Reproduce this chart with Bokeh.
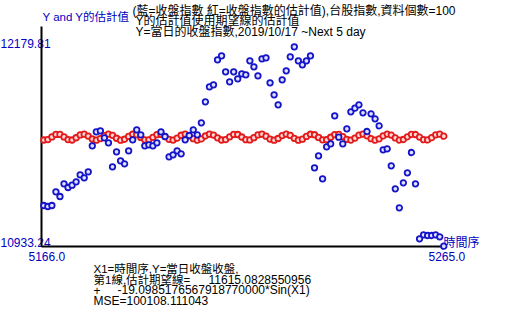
import numpy as np
from bokeh.plotting import figure
from bokeh.models import Label, Range1d
from bokeh.embed import file_html
from bokeh.resources import INLINE

# ---------------- data ----------------
x1 = list(range(5166, 5266))  # 時間序
close = [
    11187.7, 11181.4, 11187.7, 11273.3, 11243.9, 11323.3, 11300.2, 11314.6, 11335.8, 11379.6,
    11360.8, 11398.3, 11560.9, 11648.4, 11654.7, 11610.9, 11579.6, 11429.6, 11523.4, 11467.1,
    11448.4, 11529.6, 11598.4, 11660.9, 11629.7, 11560.9, 11567.2, 11560.9, 11579.6, 11648.4,
    11619.0, 11492.1, 11504.6, 11529.6, 11510.9, 11598.4, 11625.3, 11660.9, 11629.7, 11704.7,
    11835.9, 11929.7, 11942.2, 12098.5, 12123.5, 12023.5, 11961.0, 12023.5, 11979.8, 12011.0,
    12004.8, 12092.3, 12054.8, 11998.5, 12104.8, 12111.0, 11954.8, 11879.7, 11817.2, 11973.5,
    12029.8, 12117.3, 12179.81, 12092.3, 12067.3, 12092.3, 12123.5, 11423.4, 11498.4, 11354.6,
    11554.7, 11573.4, 11748.5, 11614.7, 11573.4, 11667.2, 11773.4, 11796.0, 11817.2, 11767.2,
    11650.3, 11760.9, 11729.7, 11686.0, 11535.9, 11542.1, 11435.9, 11292.1, 11173.3, 11329.6,
    11392.1, 11519.0, 11323.3, 10979.5, 11004.5, 11000.1, 11000.1, 11004.5, 10992.0, 10933.24,
]
# fitted line printed on the chart: 11615.0828550956 + -19.0985176567918770000*Sin(X1)
b0 = 11615.0828550956
b1 = -19.0985176567918770000
estimate = [b0 + b1 * np.sin(v) for v in x1]

x_tick_labels = ["5166.0", "5265.0"]
y_tick_labels = ["12179.81", "10933.24"]
x_axis_title = "時間序"
y_axis_title = "Y and Y的估計值"
title_lines = [
    "(藍=收盤指數 紅=收盤指數的估計值),台股指數,資料個數=100",
    "Y的估計值使用期望線的估計值",
    "Y=當日的收盤指數,2019/10/17 ~Next 5 day",
]
info_lines = [
    "X1=時間序,Y=當日收盤收盤,",
    "第1線,估計期望線=",
    "11615.0828550956",
    "+",
    "-19.0985176567918770000*Sin(X1)",
    "MSE=100108.111043",
]

# ---------------- layout ----------------
W, H = 520, 315
FONT = "'Liberation Sans', 'Noto Sans CJK TC', sans-serif"
BLUE_TXT = "#0000c0"

px_first, px_last = 43.3, 443.3      # pixel x of first / last point
py_min, py_max = 245.7, 46.3         # pixel y (from top) of min / max value
xmin, xmax = min(x1), max(x1)
vmin, vmax = min(close), max(close)
xs = (px_last - px_first) / (xmax - xmin)      # px per x unit
vs = (vmax - vmin) / (py_min - py_max)         # value per px


def X(px):
    return xmin + (px - px_first) / xs


def V(py):
    return vmin + (py_min - py) * vs


p = figure(width=W, height=H, output_backend="svg", toolbar_location=None,
           x_axis_location=None, y_axis_location=None,
           x_range=Range1d(X(0), X(W)), y_range=Range1d(V(H), V(0)),
           min_border=0, outline_line_color=None)
p.grid.visible = False
p.background_fill_color = "white"
p.border_fill_color = "white"


def lab(text, xpx, ypx, color="black", align="left", size="12px"):
    p.add_layout(Label(x=xpx, y=H - ypx, x_units="screen", y_units="screen",
                       text=text, text_font=FONT, text_font_size=size,
                       text_color=color, text_align=align, text_baseline="middle",
                       level="underlay"))


# axis lines
p.segment(x0=[X(41), X(41)], y0=[V(246), V(246)], x1=[X(443), X(41)], y1=[V(246), V(26)],
          line_color="black", line_width=2)

# series
p.scatter(x1, estimate, size=5.5, marker="circle", line_color="#e31a1a",
          line_width=1.8, fill_color="#ffd8d8")
p.scatter(x1, close, size=5.5, marker="circle", line_color="#1414c8",
          line_width=1.8, fill_color="#e0e0ff")

# texts
lab(y_axis_title, 42, 16, BLUE_TXT, size="11.5px")
lab(y_tick_labels[0], 0, 43, BLUE_TXT)
lab(y_tick_labels[1], 0, 242, BLUE_TXT)
lab(x_tick_labels[0], 28, 256, BLUE_TXT)
lab(x_tick_labels[1], 428, 256, BLUE_TXT)
lab(x_axis_title, 443, 242, BLUE_TXT)

lab(title_lines[0], 132, 10)
lab(title_lines[1], 135, 20.5)
lab(title_lines[2], 135, 31)

lab(info_lines[0], 93, 268.5, size="11.5px")
lab(info_lines[1], 93, 279, size="11.5px")
lab(info_lines[2], 208, 279)
lab(info_lines[3], 93, 289.5)
lab(info_lines[4], 117, 289.5)
lab(info_lines[5], 93, 300)

open("out.html", "w").write(file_html(p, INLINE))
